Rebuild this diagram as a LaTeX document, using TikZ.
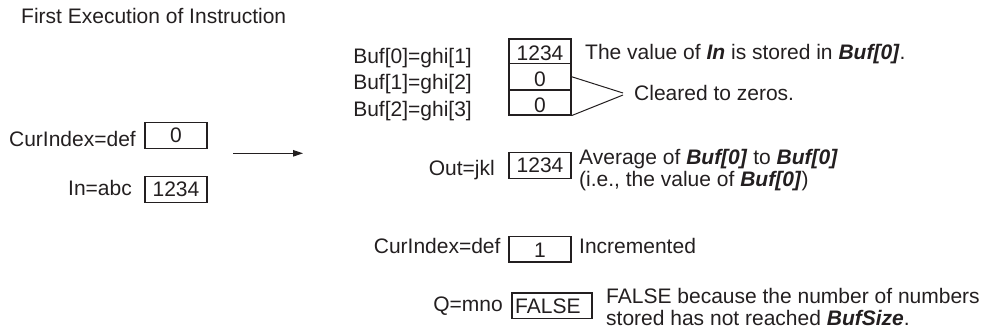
\documentclass[tikz,border=0pt]{standalone}
\usepackage{fontspec}
\setmainfont{Liberation Sans}
\usetikzlibrary{arrows.meta}
\definecolor{ink}{RGB}{35,31,32}
\newcommand{\bi}[1]{\textbf{\textit{#1}}}
\begin{document}
\begin{tikzpicture}[x=1pt,y=-1pt,
  every node/.style={font=\fontsize{21}{24}\selectfont, text=ink, inner sep=0pt},
  valbox/.style={draw=ink, line width=1.2pt, minimum width=62pt, minimum height=25.5pt, inner sep=0pt},
  lowered/.style={text height=19pt, text depth=0pt},
  lbl/.style={anchor=base east},
  note/.style={anchor=base west},
  conn/.style={draw=ink, line width=1pt}]
\useasboundingbox (0,0) rectangle (987,333);

\node[note] (title) at (21,23) {First Execution of Instruction};

% left state
\node[valbox] (cur0) at (176,135.5) {0};
\node[lbl] (cur0lbl) at (136,146) {CurIndex=def};
\node[valbox] (in) at (176,189.5) {1234};
\node[lbl] (inlbl) at (132,195) {In=abc};

\coordinate (arrS) at (233,153.3);
\coordinate (arrE) at (303,153.3);
\draw[conn, -{Triangle[length=10pt,width=6.5pt]}] (arrS) -- (arrE);

% buffer
\node[valbox, lowered, minimum height=24.3pt] (b0) at (540,51.2) {1234};
\node[valbox, lowered, minimum height=26.7pt] (b1) at (540,76.7) {0};
\node[valbox, lowered, minimum height=25pt] (b2) at (540,102.5) {0};
\node[lbl] (b0lbl) at (472,63) {Buf[0]=ghi[1]};
\node[lbl] (b1lbl) at (472,89.7) {Buf[1]=ghi[2]};
\node[lbl] (b2lbl) at (472,116) {Buf[2]=ghi[3]};
\node[note] (b0note) at (585,59) {The value of \bi{In} is stored in \bi{Buf[0]}.};
\coordinate (cu) at (623,93);
\coordinate (cl) at (623,95);
\draw[conn] (b1.east) -- (cu);
\draw[conn] (b2.south east) -- (cl);
\node[note] (clearnote) at (634,100) {Cleared to zeros.};

% output
\node[valbox] (out) at (540,165.5) {1234};
\node[lbl] (outlbl) at (495,175) {Out=jkl};
\node[note] (outnote1) at (579,164) {Average of \bi{Buf[0]} to \bi{Buf[0]}};
\node[note] (outnote2) at (579,186.5) {(i.e., the value of \bi{Buf[0]})};

% index
\node[valbox, text height=17.5pt, text depth=0pt] (cur1) at (540,249.2) {1};
\node[lbl] (cur1lbl) at (500.7,253) {CurIndex=def};
\node[note] (cur1note) at (579,253) {Incremented};

% Q
\node[valbox, line width=1.6pt, minimum width=80pt, text width=73pt, inner xsep=3.5pt, align=left] (q) at (551.7,305.8) {FALSE};
\node[lbl] (qlbl) at (503,311) {Q=mno};
\node[note] (qnote1) at (606,303) {FALSE because the number of numbers};
\node[note] (qnote2) at (606,325) {stored has not reached \bi{BufSize}.};
\end{tikzpicture}
\end{document}
